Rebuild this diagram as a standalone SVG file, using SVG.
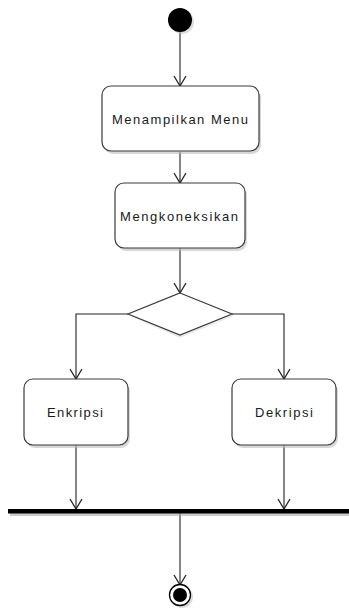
<svg xmlns="http://www.w3.org/2000/svg" width="349" height="609" viewBox="0 0 349 609">
<style>
.box{fill:#fff;stroke:#3a3a3a;stroke-width:1.2}
.shadow{fill:#bdbdbd;opacity:0.6}
.lbl{font-family:"Liberation Sans",Arial,sans-serif;font-size:13px;fill:#1a1a1a;text-anchor:middle;dominant-baseline:central}
.edge{fill:none;stroke:#222;stroke-width:1.1}
</style>
<defs>
<marker id="arr" markerWidth="14" markerHeight="14" refX="11" refY="7" orient="auto" markerUnits="userSpaceOnUse" viewBox="0 0 14 14">
<path d="M1,1 L11,7 L1,13" fill="none" stroke="#222" stroke-width="1.3"/>
</marker>
</defs>
<rect width="349" height="609" fill="#fff"/>
<g id="connectors">
<line class="edge" x1="180" y1="32" x2="180" y2="86" marker-end="url(#arr)"/>
<line class="edge" x1="180" y1="152" x2="180" y2="183" marker-end="url(#arr)"/>
<line class="edge" x1="180" y1="248" x2="180" y2="293" marker-end="url(#arr)"/>
<polyline class="edge" points="128,314 76,314 76,379" marker-end="url(#arr)"/>
<polyline class="edge" points="232,314 284,314 284,379" marker-end="url(#arr)"/>
<line class="edge" x1="76" y1="445" x2="76" y2="509" marker-end="url(#arr)"/>
<line class="edge" x1="284" y1="445" x2="284" y2="509" marker-end="url(#arr)"/>
<line class="edge" x1="180" y1="513" x2="180" y2="585" marker-end="url(#arr)"/>
</g>
<g id="start">
<circle cx="182" cy="22" r="12" fill="#bbb" opacity="0.5"/>
<circle cx="180" cy="20" r="12" fill="#000"/>
</g>
<g id="menampilkan">
<rect class="shadow" x="104" y="89" width="157" height="65" rx="9"/>
<rect class="box" x="102" y="86" width="157" height="65" rx="9"/>
<text class="lbl" x="180" y="119" textLength="136" lengthAdjust="spacing">Menampilkan Menu</text>
</g>
<g id="mengkoneksikan">
<rect class="shadow" x="117" y="186" width="130" height="65" rx="9"/>
<rect class="box" x="115" y="183" width="130" height="65" rx="9"/>
<text class="lbl" x="179" y="216" textLength="118" lengthAdjust="spacing">Mengkoneksikan</text>
</g>
<g id="decision">
<polygon points="180,296 234,316 180,338 130,316" fill="#ccc" opacity="0.4"/>
<polygon class="box" points="180,293 232,314 180,335 128,314"/>
</g>
<g id="enkripsi">
<rect class="shadow" x="26" y="382" width="104" height="66" rx="9"/>
<rect class="box" x="24" y="379" width="104" height="66" rx="9"/>
<text class="lbl" x="75" y="412" textLength="56" lengthAdjust="spacing">Enkripsi</text>
</g>
<g id="dekripsi">
<rect class="shadow" x="234" y="382" width="104" height="66" rx="9"/>
<rect class="box" x="232" y="379" width="104" height="66" rx="9"/>
<text class="lbl" x="284" y="412" textLength="58" lengthAdjust="spacing">Dekripsi</text>
</g>
<g id="join">
<rect x="10" y="512" width="341" height="4" fill="#aaa" opacity="0.6"/>
<rect x="8" y="509" width="341" height="4.5" fill="#000"/>
</g>
<g id="end">
<circle cx="182" cy="597" r="11" fill="#bbb" opacity="0.5"/>
<circle cx="180" cy="595" r="10.5" fill="#fff" stroke="#000" stroke-width="1.3"/>
<circle cx="180" cy="595" r="7" fill="#000"/>
</g>
</svg>
